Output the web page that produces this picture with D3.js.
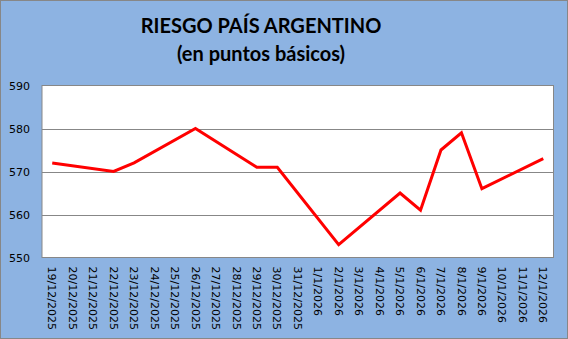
<!DOCTYPE html>
<html>
<head>
<meta charset="utf-8">
<script src="https://cdn.jsdelivr.net/npm/d3@7"></script>
<style>
  body { margin: 0; background: #fff; }
  svg { display: block; }
</style>
</head>
<body>
<div id="chart"></div>
<script>
// fechas (eje de categorías) y valores del riesgo país; null = sin dato
var dates = ["19/12/2025", "20/12/2025", "21/12/2025", "22/12/2025", "23/12/2025",
             "24/12/2025", "25/12/2025", "26/12/2025", "27/12/2025", "28/12/2025",
             "29/12/2025", "30/12/2025", "31/12/2025", "1/1/2026", "2/1/2026",
             "3/1/2026", "4/1/2026", "5/1/2026", "6/1/2026", "7/1/2026",
             "8/1/2026", "9/1/2026", "10/1/2026", "11/1/2026", "12/1/2026"];
var values = [572, null, null, 570, 572,
              null, null, 580, null, null,
              571, 571, null, null, 553,
              null, null, 565, 561, 575,
              579, 566, null, null, 573];
var yTicks = [550, 560, 570, 580, 590];
var titleLines = ["RIESGO PAÍS ARGENTINO", "(en puntos básicos)"];

var width = 568, height = 339;
var plot = { left: 42, top: 85.5, right: 553.5, bottom: 257.5 };

var svg = d3.select("#chart").append("svg")
    .attr("width", width)
    .attr("height", height);

svg.append("rect")
    .attr("x", 0.5).attr("y", 0.5)
    .attr("width", width - 1).attr("height", height - 1)
    .attr("fill", "#8db3e2")
    .attr("stroke", "#878787");

svg.selectAll("text.title")
    .data(titleLines)
    .enter()
    .append("text")
    .attr("class", "title")
    .attr("x", 261)
    .attr("y", function (d, i) { return 33 + i * 28; })
    .attr("text-anchor", "middle")
    .style("font-family", "Lato, 'Open Sans', sans-serif")
    .style("font-weight", "bold")
    .style("font-size", "20px")
    .style("fill", "#000")
    .text(function (d) { return d; });

var x = d3.scaleBand()
    .domain(dates)
    .range([plot.left, plot.right]);

var y = d3.scaleLinear()
    .domain([550, 590])
    .range([plot.bottom, plot.top]);

svg.append("rect")
    .attr("x", plot.left).attr("y", plot.top)
    .attr("width", plot.right - plot.left)
    .attr("height", plot.bottom - plot.top)
    .attr("fill", "#fff")
    .attr("stroke", "#878787");

// lineas de grilla
svg.append("g")
    .selectAll("line")
    .data(yTicks.slice(1, -1))
    .enter()
    .append("line")
    .attr("x1", plot.left).attr("x2", plot.right)
    .attr("y1", function (d) { return Math.round(y(d)) + 0.5; })
    .attr("y2", function (d) { return Math.round(y(d)) + 0.5; })
    .attr("stroke", "#878787");

var yAxis = svg.append("g")
    .attr("transform", "translate(" + plot.left + ",0)")
    .call(d3.axisLeft(y).tickValues(yTicks).tickSize(0).tickPadding(12));
yAxis.select(".domain").remove();
yAxis.selectAll("text")
    .style("font-family", "'DejaVu Sans', Verdana, sans-serif")
    .style("font-size", "11px")
    .style("fill", "#000");

var xAxis = svg.append("g")
    .attr("transform", "translate(0," + plot.bottom + ")")
    .call(d3.axisBottom(x).tickSize(0));
xAxis.select(".domain").remove();
xAxis.selectAll("text")
    .attr("transform", "rotate(90)")
    .attr("x", 9)
    .attr("y", 0)
    .attr("dy", "0.35em")
    .style("text-anchor", "start")
    .style("font-family", "'DejaVu Sans', Verdana, sans-serif")
    .style("font-size", "11px")
    .style("fill", "#000");

var points = dates.map(function (d, i) { return { date: d, value: values[i] }; })
    .filter(function (d) { return d.value !== null; });

var line = d3.line()
    .x(function (d) { return x(d.date) + x.bandwidth() / 2; })
    .y(function (d) { return y(d.value); });

svg.append("path")
    .datum(points)
    .attr("d", line)
    .attr("fill", "none")
    .attr("stroke", "#ff0000")
    .attr("stroke-width", 3)
    .attr("stroke-linejoin", "miter");
</script>
</body>
</html>
